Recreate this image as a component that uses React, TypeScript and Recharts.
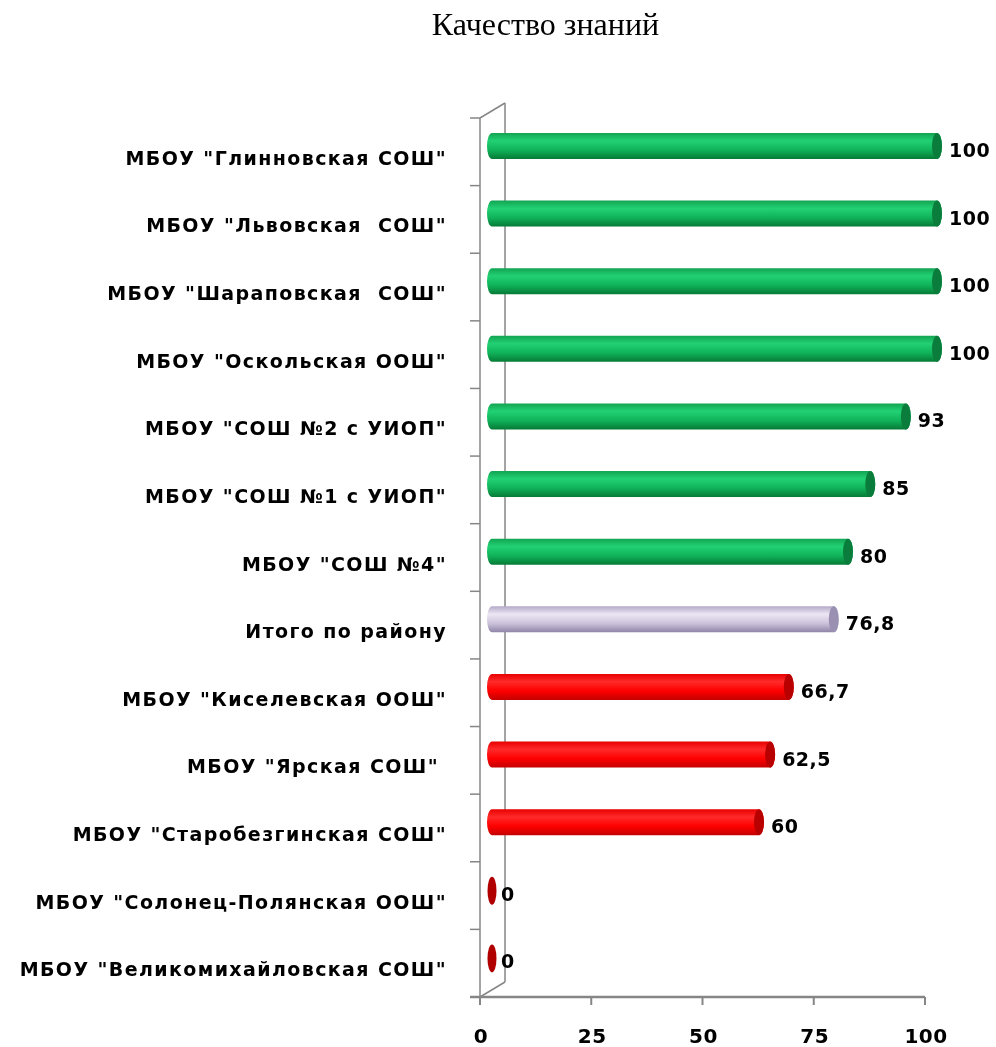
import React from 'react';
import { BarChart, Bar, XAxis, YAxis, LabelList } from 'recharts';

const categories = [
  'МБОУ "Глинновская СОШ"',
  'МБОУ "Львовская  СОШ"',
  'МБОУ "Шараповская  СОШ"',
  'МБОУ "Оскольская ООШ"',
  'МБОУ "СОШ №2 с УИОП"',
  'МБОУ "СОШ №1 с УИОП"',
  'МБОУ "СОШ №4"',
  'Итого по району',
  'МБОУ "Киселевская ООШ"',
  'МБОУ "Ярская СОШ" ',
  'МБОУ "Старобезгинская СОШ"',
  'МБОУ "Солонец-Полянская ООШ"',
  'МБОУ "Великомихайловская СОШ"',
];
const values = [100, 100, 100, 100, 93, 85, 80, 76.8, 66.7, 62.5, 60, 0, 0];
const totalCategory = 'Итого по району';
const xTicks = [0, 25, 50, 75, 100];
const title = 'Качество знаний';

const data = categories.map((name, i) => ({ name, value: values[i] }));
const totalValue = values[categories.indexOf(totalCategory)];

const W = 988;
const H = 1039;
const XH = 50;
const M = { top: 110, right: 71, bottom: 0, left: 0 };
const YW = 472;
const plotLeft = M.left + YW;
const plotTop = M.top;
const plotBottom = H - M.bottom - XH;
const step = (plotBottom - plotTop) / categories.length;
const DX = 12;
const DY = -6;
const DEPTH_X = 25;
const DEPTH_Y = -15;
const AXIS = '#868686';
const FONT = '"DejaVu Sans", Verdana, sans-serif';

function kind(name: string, v: number) {
  if (name === totalCategory) return 'total';
  if (v === 0) return 'zero';
  return v > totalValue ? 'good' : 'bad';
}

const CAP: Record<string, string> = {
  good: '#0a7d3c',
  total: '#9a90b2',
  bad: '#b80000',
  zero: '#b00000',
};

const Cylinder = (props: any) => {
  const { x, y, width, height, payload } = props;
  const k = kind(payload.name, payload.value);
  const cy = y + height / 2 + DY;
  const x0 = x + DX;
  const x1 = x + Math.max(width, 0) + DX;
  const ry = height / 2;
  const rx = 5;
  if (k === 'zero') {
    return <ellipse cx={x0} cy={cy + 1} rx={4.5} ry={ry + 1} fill={CAP.zero} />;
  }
  const top = cy - ry;
  const bot = cy + ry;
  const d = `M${x0},${top} L${x1},${top} A${rx},${ry} 0 0 1 ${x1},${bot} L${x0},${bot} A${rx},${ry} 0 0 1 ${x0},${top} Z`;
  return (
    <g>
      <path d={d} fill={`url(#grad-${k})`} />
      <ellipse cx={x1} cy={cy} rx={rx} ry={ry} fill={CAP[k]} />
    </g>
  );
};

const ValueLabel = (props: any) => {
  const { x, y, width, height, value } = props;
  const cy = y + height / 2 + DY;
  const x1 = x + Math.max(width, 0) + DX;
  return (
    <text
      x={x1 + (value === 0 ? 9 : 12)}
      y={cy + 11}
      fontFamily={FONT}
      fontWeight="bold"
      fontSize={19}
      letterSpacing={0.5}
      fill="#000"
    >
      {String(value).replace('.', ',')}
    </text>
  );
};

const CategoryTick = (props: any) => {
  const { y, payload } = props;
  return (
    <g>
      <line x1={plotLeft - 10} x2={plotLeft} y1={y - step / 2} y2={y - step / 2} stroke={AXIS} strokeWidth={1.5} />
      <text
        x={plotLeft - 33}
        y={y + 13}
        textAnchor="end"
        fontFamily={FONT}
        fontWeight="bold"
        fontSize={19}
        letterSpacing={1.4}
        fill="#000"
        style={{ whiteSpace: 'pre' }}
      >
        {payload.value}
      </text>
    </g>
  );
};

const ValueTick = (props: any) => {
  const { x, payload } = props;
  return (
    <text
      x={x + 1}
      y={plotBottom + 46}
      textAnchor="middle"
      fontFamily={FONT}
      fontWeight="bold"
      fontSize={20}
      letterSpacing={0.5}
      fill="#000"
    >
      {payload.value}
    </text>
  );
};

export default function App() {
  return (
    <div style={{ position: 'fixed', left: 8, top: 8, width: W, height: H }}>
      <div
        style={{
          position: 'absolute',
          left: 537.5,
          top: 0,
          transform: 'translateX(-50%)',
          fontFamily: '"Liberation Serif", "Times New Roman", serif',
          fontSize: 32,
          lineHeight: '36px',
          whiteSpace: 'nowrap',
          color: '#000',
          marginTop: -2,
        }}
      >
        {title}
      </div>
      <svg width={W} height={H} style={{ position: 'absolute', left: 0, top: 0 }}>
        <g stroke={AXIS} strokeWidth={1.5} fill="none">
          <line x1={plotLeft} y1={plotTop} x2={plotLeft + DEPTH_X} y2={plotTop + DEPTH_Y} />
          <line x1={plotLeft + DEPTH_X} y1={plotTop + DEPTH_Y} x2={plotLeft + DEPTH_X} y2={plotBottom + DEPTH_Y} />
          <line x1={plotLeft} y1={plotBottom} x2={plotLeft + DEPTH_X} y2={plotBottom + DEPTH_Y} />
          <line x1={plotLeft - 10} y1={plotBottom} x2={plotLeft} y2={plotBottom} strokeWidth={2.5} />
        </g>
      </svg>
      <div style={{ position: 'absolute', left: 0, top: 0 }}>
        <BarChart width={W} height={H} data={data} layout="vertical" margin={M} barSize={26}>
          <defs>
            <linearGradient id="grad-good" x1="0" y1="0" x2="0" y2="1">
              <stop offset="0%" stopColor="#12a452" />
              <stop offset="30%" stopColor="#22d174" />
              <stop offset="65%" stopColor="#10b35a" />
              <stop offset="100%" stopColor="#067a36" />
            </linearGradient>
            <linearGradient id="grad-total" x1="0" y1="0" x2="0" y2="1">
              <stop offset="0%" stopColor="#b4aac8" />
              <stop offset="30%" stopColor="#ece6f4" />
              <stop offset="65%" stopColor="#cdc4dc" />
              <stop offset="100%" stopColor="#8e84a6" />
            </linearGradient>
            <linearGradient id="grad-bad" x1="0" y1="0" x2="0" y2="1">
              <stop offset="0%" stopColor="#e80000" />
              <stop offset="30%" stopColor="#ff2a2a" />
              <stop offset="65%" stopColor="#ff0000" />
              <stop offset="100%" stopColor="#c40000" />
            </linearGradient>
          </defs>
          <XAxis
            type="number"
            dataKey="value"
            domain={[0, 100]}
            ticks={xTicks}
            interval={0}
            height={XH}
            axisLine={{ stroke: AXIS, strokeWidth: 2.5 }}
            tickLine={{ stroke: AXIS, strokeWidth: 2 }}
            tickSize={8}
            tick={<ValueTick />}
          />
          <YAxis
            type="category"
            dataKey="name"
            width={YW}
            interval={0}
            axisLine={{ stroke: AXIS, strokeWidth: 1.5 }}
            tickLine={false}
            tick={<CategoryTick />}
          />
          <Bar dataKey="value" shape={<Cylinder />} isAnimationActive={false}>
            <LabelList dataKey="value" content={<ValueLabel />} />
          </Bar>
        </BarChart>
      </div>
    </div>
  );
}
